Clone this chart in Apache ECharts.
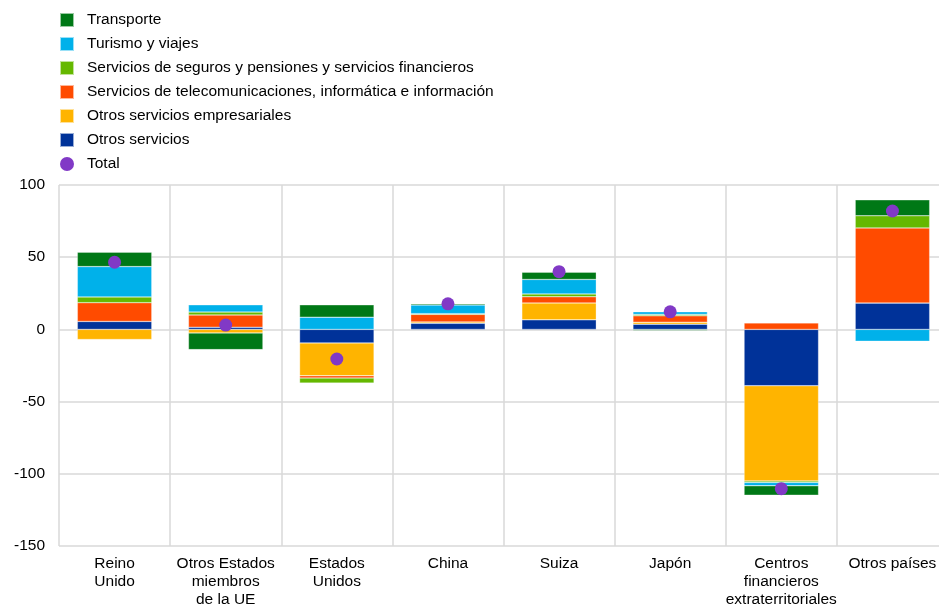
<!DOCTYPE html>
<html>
<head>
<meta charset="utf-8">
<script src="https://cdn.jsdelivr.net/npm/echarts@6/dist/echarts.min.js"></script>
<style>
  html, body { margin: 0; padding: 0; background: #fff; overflow: hidden; }
  /* el gráfico original queda recortado por la derecha: el lienzo es algo más ancho que la ventana */
  #chart { width: 948px; height: 609px; }
</style>
</head>
<body>
<div id="chart"></div>
<script>
// categorías (países / regiones)
const categories = [
    'Reino\nUnido',
    'Otros Estados\nmiembros\nde la UE',
    'Estados\nUnidos',
    'China',
    'Suiza',
    'Japón',
    'Centros\nfinancieros\nextraterritoriales',
    'Otros países'
];

// valores por componente
const transporte = [10, -11.5, 8.5, 0.8, 5, -0.8, -6.5, 11];
const turismo = [21, 5, 8.5, 6, 10, 1.8, -2.3, -8.2];
const seguros = [4, 2, -3.5, 0.5, 2, 1, -1, 8.4];
const telecom = [13, 8.5, -1.6, 5.2, 4.3, 4.4, 4.5, 52];
const empresariales = [-7, -2.5, -22.7, 1, 11.7, 1.4, -66, 0];
const otrosServicios = [5.5, 1.5, -9.4, 4.2, 6.6, 3.6, -39, 18.3];
const total = [46.5, 3, -20.5, 17.7, 40, 12.2, -110.3, 82];

const yTicks = { min: -150, max: 100, interval: 50 };

const FONT = 'Liberation Sans, Arial, sans-serif';

const chart = echarts.init(document.getElementById('chart'));

// orden de apilado: de abajo hacia arriba
const barSeries = [
    { name: 'Otros servicios', data: otrosServicios, color: '#003299' },
    { name: 'Otros servicios empresariales', data: empresariales, color: '#FFB400' },
    { name: 'Servicios de telecomunicaciones, informática e información', data: telecom, color: '#FF4B00' },
    { name: 'Servicios de seguros y pensiones y servicios financieros', data: seguros, color: '#65B800' },
    { name: 'Turismo y viajes', data: turismo, color: '#00B1EA' },
    { name: 'Transporte', data: transporte, color: '#007816' }
];

const series = barSeries.map(s => ({
    name: s.name,
    type: 'bar',
    stack: 'total',
    barCategoryGap: '33%',
    data: s.data,
    itemStyle: {
        color: s.color,
        borderColor: 'rgba(255,255,255,0.6)',
        borderWidth: 0.5
    }
}));

series.push({
    name: 'Total',
    type: 'scatter',
    data: total,
    symbol: 'circle',
    symbolSize: 13,
    z: 10,
    itemStyle: { color: '#8139C6', opacity: 1 }
});

const option = {
    animation: false,
    legend: {
        orient: 'vertical',
        left: 59,
        top: 12,
        padding: 0,
        itemWidth: 14,
        itemHeight: 14,
        itemGap: 8,
        data: [
            { name: 'Transporte', icon: 'rect' },
            { name: 'Turismo y viajes', icon: 'rect' },
            { name: 'Servicios de seguros y pensiones y servicios financieros', icon: 'rect' },
            { name: 'Servicios de telecomunicaciones, informática e información', icon: 'rect' },
            { name: 'Otros servicios empresariales', icon: 'rect' },
            { name: 'Otros servicios', icon: 'rect' },
            { name: 'Total', icon: 'circle' }
        ],
        textStyle: {
            fontFamily: FONT,
            fontSize: 15.5,
            lineHeight: 16,
            color: '#000',
            padding: [0, 0, 0, 8]
        }
    },
    grid: {
        left: 59,
        right: 0,
        top: 185,
        bottom: 61
    },
    xAxis: {
        type: 'category',
        data: categories,
        axisLine: { show: false, onZero: false },
        axisTick: { show: false },
        splitLine: {
            show: true,
            lineStyle: { color: '#d9d9d9', width: 1.5 }
        },
        axisLabel: {
            interval: 0,
            margin: 9,
            fontFamily: FONT,
            fontSize: 15.5,
            lineHeight: 18,
            color: '#000'
        }
    },
    yAxis: {
        type: 'value',
        min: yTicks.min,
        max: yTicks.max,
        interval: yTicks.interval,
        axisLine: { show: false },
        axisTick: { show: false },
        splitLine: {
            lineStyle: { color: '#d9d9d9', width: 1.5 }
        },
        axisLabel: {
            margin: 14,
            fontFamily: FONT,
            fontSize: 15.5,
            color: '#000'
        }
    },
    series: series
};

chart.setOption(option);
</script>
</body>
</html>
